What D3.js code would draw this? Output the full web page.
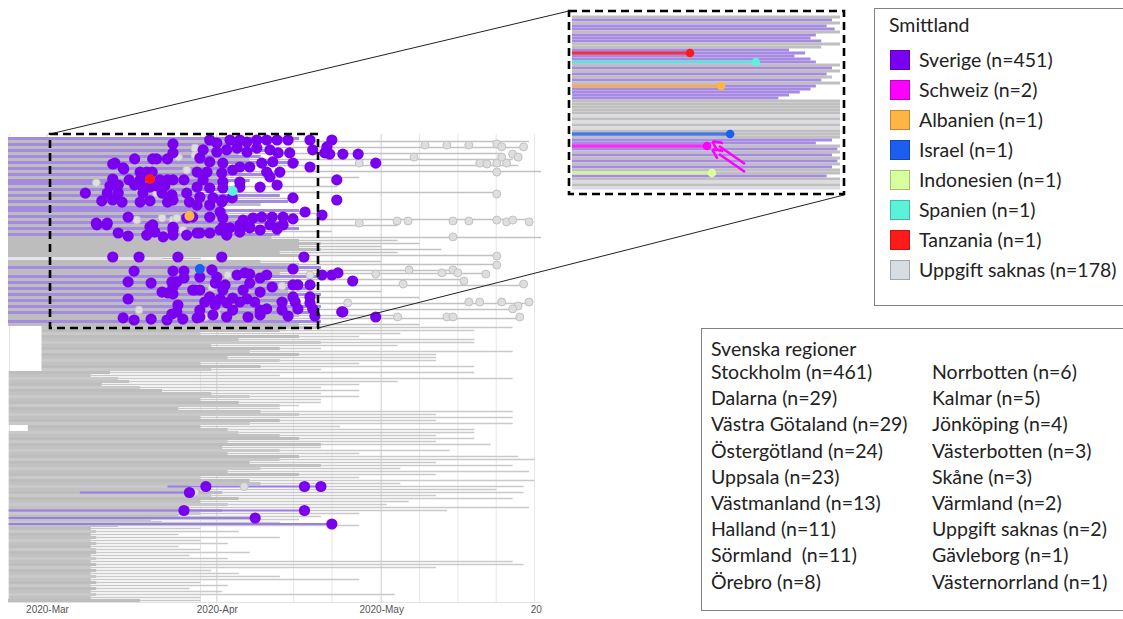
<!DOCTYPE html>
<html><head><meta charset="utf-8">
<script src="https://cdn.jsdelivr.net/npm/d3@7"></script>
<style>body{margin:0;background:#fff}svg{display:block}</style>
</head><body>
<svg id="c" width="1123" height="619"></svg>
<script>
// ---------------- DATA ----------------
const monthTicks = ["2020-03-01","2020-04-01","2020-05-01","2020-06-01"];
const gridDates = ["2020-03-01","2020-03-29","2020-04-01","2020-04-15","2020-04-22","2020-05-01","2020-05-08","2020-05-15","2020-05-22","2020-05-29"];

const countryNames = ["Sverige (n=451)","Schweiz (n=2)","Albanien (n=1)","Israel (n=1)","Indonesien (n=1)","Spanien (n=1)","Tanzania (n=1)","Uppgift saknas (n=178)"];
const countryColors = ["#7a00f0","#ff00ff","#ffb443","#1c5ff0","#d8ff9c","#5cf2da","#ff1a1a","#d6dde3"];

const regionsCol1 = ["Stockholm (n=461)","Dalarna (n=29)","Västra Götaland (n=29)","Östergötland (n=24)","Uppsala (n=23)","Västmanland (n=13)","Halland (n=11)","Sörmland  (n=11)","Örebro (n=8)"];
const regionsCol2 = ["Norrbotten (n=6)","Kalmar (n=5)","Jönköping (n=4)","Västerbotten (n=3)","Skåne (n=3)","Värmland (n=2)","Uppgift saknas (n=2)","Gävleborg (n=1)","Västernorrland (n=1)"];

// Upper (Stockholm) cluster: one row per tip; day offsets from 2020-03-01
const topGroup = ("sususususu"+"susussusus"+"usussususu"+"susuuuuuuu"+"wuusuususu"+"sususususu"+"usu").split("");
const topBlockEnd = [46,42.5,37,39,42.5,35,39,37,46,33, 35,32,41,33,37,32,30,35,28,42.5,
  30,44,39,32,46,33,42.5,37,44,33, 46,33,42.5,41,46,50,46,50,42.5,46,
  21,39,46,50,46,42.5,50,39,46,42.5, 48,44,50,46,46,44,50,46,48,46, 44,50,46];
const topLineEnd = [46,88,37,87,42.5,83,39,85,46,86, 35,92,41,57,37,32,53,35,82,42.5,
  46,44,39,57,46,50,42.5,88,44,64, 46,52,42.5,92,64,68,61,72,64,82,
  28,61,82,50,74,80,50,76,46,87, 48,61,50,68,46,88,50,86,48,64, 86,50,68];

// Lower part of the tree (rows 63..154)
const lowStart = [-1,-1,-1,-1,-1,-1,-1,-1,-1,-1,-1,-1,-1,-1,-1, -7,-7,-7,-7,-7,-7,-7,-7,-7,-7,-7,-7,-7,-7,-7,-7,-7,-7,
  -3.5,-3.5, -7,-7,-7,-7,-7,-7,-7,-7,-7,-7,-7,-7,-7,-7,-7,-7,-7,-7,-7,-7,-7,-7,-7,-7,-7,-7,-7,-7,-7,-7,-7,-7,
  -7,-7,-7,-7,-7,-7,-7,-7,-7,-7,-7,-7,-7,-7,-7,-7,-7,-7,-7,-7,-7,-7,-7,-7];
const lowBlockEnd = [50,42.5,28,46,35,50,30,42.5,37,46, 33,42.5,28,39,30,11.5,8,13,15,10,
  17,21,30,37,28,35,42.5,24,39,46, 28,42.5,37,28,33,35,42.5,46,33,50,
  32,42.5,33,46,42.5,37,50,39,33,46, 28,37,39,26,28,32,30,35,28,33,
  26,32,28,24,19,21,13,8,9,8, 9,8,9,8,9,9,8,9,8,9, 8,9,8,9,8,9,8,9,8,9, 8,17];
const lowLineEnd = [85,78,64.5,57,78,78,64,50,85,71, 71,71,57,78,50,78,42.5,85,64,57,
  50,57,50,57,50,50,46,42.5,85,71, 85,71,85,53.5,78,78,71,78,71,81,
  50,73.5,57,86,89,71,85,64.5,88,71, 57,89,64.5,87,82,87,71,85,66,62,
  88,73,57,50,46,42.5,57,28,35,24, 42.5,28,33,24,28,37,26,33,85,87,
  71,30,35,42.5,57,28,33,26,32,63.5, 28,28];
// Swedish-infected lineages in the lower part: [startDay, endDay, row]
const lowPurple = [[22,50,116],[6,26,118],[-7,47,124],[-7,38,126.5],[-7,52,128.5]];

// Samples: [day, row]
const sweDots = [
 [23,1.8],[23,4.8],[16,6.8],[19.3,6.8],[20,6.8],[22,6.8],[12,8.5],[14,10.2],[17,11.2],[18.2,11.2],[19.2,11.2],
 [15,13.8],[17,13.8],[20.6,13.8],[22,13.8],[23,13.8],[25,13.8],[12,13.5],[13,15.5],[11.5,15.8],[16,15.5],
 [17.5,16.2],[18.8,16.2],[20,15.8],[21.5,15.8],[7,18.2],[11,18.2],[13,18.2],[17.5,18.2],[21,18.2],[22.8,18.8],
 [25.5,18.2],[10,20.8],[12,20.5],[13.7,21.2],[17,21.2],[18.8,20.8],[22,21.2],[23,20.5],[26,21.2],[14.8,26.2],
 [9,28.2],[11,28.2],[19.3,28.8],[23,29.5],[25.5,26.5],[12.4,8.2],[13.9,9.8],
 [29.7,0.5],[31,1.5],[33.4,0.5],[35.2,0.5],[36.5,1.2],[38.3,0.5],[40.1,0.5],[42,0.5],[44,0.5],[48,0.5],[52,0.5],
 [28.5,3.8],[31,4.5],[32.8,3.8],[34.7,3.2],[36.5,4.5],[38.3,3.2],[40.7,3.8],[42.2,4.8],[44.3,4.8],[48.5,3.8],
 [50.7,4.8],[51.6,5.2],[54,5.2],[27.9,6.5],[29.7,7.8],[32.1,8.2],[35.2,9.5],[37,9.5],[39.2,8.2],[41.2,7.8],
 [44.9,8.2],[48,9.5],[27.4,11.2],[29.2,11.2],[31.9,11.5],[33.9,10.5],[40.1,11.2],[42.5,11.2],[28.5,13.8],
 [32.1,14.5],[35.2,14.5],[40.7,12.8],[42,15.5],[38.9,16.2],[52.9,13.8],[27.4,16.2],[29.7,16.5],[32.1,16.5],
 [35.2,16.2],[27.9,19.5],[30.3,19.8],[32.1,20.5],[33.8,19.8],[44.9,19.8],[52.9,20.5],[27.4,22.2],[29.7,22.2],
 [31.9,21.2],[31.6,24.5],[47.1,24.5],[50.2,25.5],[26.6,26.2],[29.7,26.2],[32.1,26.5],[35.8,27.2],[37.6,26.5],
 [39.2,26.2],[41.1,26.2],[43.1,26.2],[44.9,26.8],[32.1,29.5],[35.2,28.8],[37,29.5],[40.7,28.8],[43.1,28.8],
 [51.1,2.8],[56.8,5.2],[60,8.2],[42,30.2],[50.2,45.5],[52,45.5],[53.1,44.8],[55.8,47.5],[53.8,57.8],[60,59.5],
 [9.1,28.8],[10.9,28.8],[13,31.5],[14.8,32.5],[18.2,32.2],[19.7,31.2],[21.2,32.8],[23,32.2],[23,30.5],[25.5,32.2],
 [27.4,31.5],[18.8,29.5],[12,39.5],[16.8,39.5],[23.9,39.5],[15.9,44.2],[23,44.2],[25,44.2],[14.8,47.8],[19,48.2],
 [22.8,47.8],[23.7,47.8],[25,46.5],[23,49.5],[21,51.2],[22.1,51.5],[23,51.8],[27,50.5],[14.8,53.5],[23.9,55.5],
 [23.7,57.8],[22.8,58.5],[13.9,59.8],[15.9,60.5],[19,60.2],[21.9,60.5],[24.8,60.2],[27.4,59.8],
 [27.9,31.5],[29.7,31.5],[31.6,30.5],[33.4,29.8],[35.2,29.8],[37,29.8],[38.9,30.5],[42,29.8],[32.8,32.2],[35.2,31.2],
 [31.9,39.5],[46.9,39.5],[30.1,43.8],[44.9,43.5],[27.9,46.2],[31,46.2],[34.7,45.5],[36.1,44.8],[37,45.2],[38.9,46.5],
 [40.1,45.5],[30.7,48.2],[32.5,48.8],[37,48.2],[41.1,49.5],[44.9,48.8],[45.8,48.8],[48,48.8],[26.6,50.5],[27.9,50.5],
 [32.1,50.5],[35.8,50.5],[38.9,51.2],[29.7,52.8],[31.6,53.5],[33.9,53.2],[36.5,53.5],[44.9,52.8],[48,52.8],
 [28.8,54.5],[30.7,55.5],[32.8,54.8],[35.2,54.5],[37.9,54.5],[42.9,54.5],[45.3,54.5],[48,54.8],[27.9,57.2],
 [33.9,57.2],[38.9,57.2],[40.1,56.8],[42.9,57.2],[45.8,56.8],[48.5,56.8],[27.9,59.5],[30.3,58.8],[32.8,59.5],
 [36.7,59.5],[38.9,58.8],[44,59.2],[48.9,59.2],[54,57.8],
 [29,116],[47,116],[50,116],[26,118],[25,124],[47,124],[38,126.5],[52,128.5]
];
const unkDots = [
 [9,14.8],[17,17.8],[20,18.2],[25.5,10.5],[27,5.5],[27,3.2],[24,6.2],[16.4,27.2],[21,26.5],[23,27.2],[23.7,26.5],
 [69,2.2],[73,2.2],[77,2.2],[82.1,1.8],[83,2.8],[87,2.8],[67,6.2],[83,6.2],[85,5.2],[86,6.2],[79,8.2],[80.3,8.5],
 [82.1,8.2],[83.9,8.2],[82.1,11.2],[57,8.2],[82.1,18.5],[57,28.2],[63.9,27.5],[65.9,27.5],[74.1,27.5],[77,27.5],
 [82.1,27.2],[83.9,27.8],[85,27.2],[88,27.8],[74.1,32.8],[82.1,39.2],[82.1,42.2],[60,45.2],[66.1,43.8],[72.1,44.8],
 [74.1,43.8],[75,44.8],[80.1,45.2],[65,48.5],[76.1,47.5],[87,48.5],[77,54.5],[79,54.5],[83,54.5],[86,55.8],
 [88,54.5],[85,56.8],[86.3,59.5],[64,59.5],[73,59.5],[74.1,59.5],[54.9,54.8],
 [16.8,57.2],[24.8,30.5],[20.1,32.2],[33,45.5],[42.9,49.2],[48,45.5],[30.1,49.5],[31,58.8],[28.8,59.5],
 [36,116],[27,118]
];
// Non-Swedish infections: [countryIndex, day, row]
const specialDots = [[6,18.8,13.5],[5,33.9,17.5],[2,26,25.8],[3,27.9,43.5]];

// Inset (zoom of the dashed box, coloured by country of infection)
const insetGroup = ("usussusssu"+"usssssusus"+"ususssssuu"+"uuulululuu"+"ussusususu"+"suusulul").split("");
const insetEnd = [49.5,48,49.5,47,48.5,49.5,45,44,46,49.5, 46,40,43,41,44,45,49.5,48,49.5,47,
  48,46,49.5,45,44,42,40,38,49.5,49.5, 49.5,49.5,49.5,49.5,49.5,49.5,49.5,49.5,49.5,49.5,
  49.5,48,45,49.5,49,49.5,48,49.5,49,49.5, 48,49.5,49.5,47,49.5,49.5,49.5,49.5];
// [countryIndex, row, endDay]
const insetHighlights = [[6,12,21.5],[5,15,33.8],[2,23,27.3],[3,39,29],[1,43,24.7],[4,52,25.6]];

// ---------------- DRAW ----------------
const svg = d3.select("#c");
const base = Date.UTC(2020,2,1);
const D = d => new Date(base + d*864e5);
const P = d3.utcParse("%Y-%m-%d");

const x = d3.scaleUtc().domain([P("2020-03-01"), P("2020-06-01")]).range([47, 551]);
const y = d3.scaleLinear().domain([-0.5, 154.5]).range([137, 602]);

const PURPLE_LINE = "#a48ae0", GRAY = "#bdbdbd";

const defs = svg.append("defs");
defs.append("clipPath").attr("id","mainclip").append("rect").attr("x",8).attr("y",134).attr("width",533).attr("height",470);
defs.append("clipPath").attr("id","insetclip").append("rect").attr("x",572).attr("y",14).attr("width",269).attr("height",178);
defs.append("clipPath").attr("id","axisclip").append("rect").attr("x",0).attr("y",600).attr("width",542).attr("height",19);

const main = svg.append("g").attr("clip-path","url(#mainclip)");

// grid
main.selectAll("line.grid").data(gridDates).join("line").attr("class","grid")
  .attr("x1",d=>x(P(d))).attr("x2",d=>x(P(d))).attr("y1",134).attr("y2",603)
  .attr("stroke",d=>d.endsWith("-01")?"#cfcfcf":"#e6e6e6").attr("stroke-width",1);
main.append("line").attr("x1",9.5).attr("x2",9.5).attr("y1",134).attr("y2",603).attr("stroke","#e2e2e2");
main.append("line").attr("x1",8).attr("x2",541).attr("y1",602.5).attr("y2",602.5).attr("stroke","#e2e2e2");

// lower rows
const lowIdx = d3.range(lowBlockEnd.length);
main.selectAll("line.lowthin").data(lowIdx).join("line").attr("class","lowthin")
  .attr("x1",i=>x(D(lowBlockEnd[i]))).attr("x2",i=>x(D(lowLineEnd[i])))
  .attr("y1",i=>y(63+i)).attr("y2",i=>y(63+i))
  .attr("stroke","#c9c9c9").attr("stroke-width",1.3);
main.selectAll("line.lowblock").data(lowIdx).join("line").attr("class","lowblock")
  .attr("x1",i=>x(D(lowStart[i]))).attr("x2",i=>x(D(lowBlockEnd[i])))
  .attr("y1",i=>y(63+i)).attr("y2",i=>y(63+i))
  .attr("stroke",i=> i%3===2 ? "#c9c9c9" : (i%2 ? "#bdbdbd" : "#c2c2c2")).attr("stroke-width",3.2);

// top rows
const topIdx = d3.range(topGroup.length);
main.selectAll("line.topthin").data(topIdx.filter(i=>topGroup[i]!=="s")).join("line").attr("class","topthin")
  .attr("x1",i=>x(D(topBlockEnd[i]))).attr("x2",i=>x(D(topLineEnd[i])))
  .attr("y1",i=>y(i)).attr("y2",i=>y(i))
  .attr("stroke","#c2c2c2").attr("stroke-width",1.6);
main.selectAll("line.topblock").data(topIdx).join("line").attr("class","topblock")
  .attr("x1",x(D(-7.5))).attr("x2",i=>x(D(topBlockEnd[i])))
  .attr("y1",i=>y(i)).attr("y2",i=>y(i))
  .attr("stroke",i=>topGroup[i]==="s"?PURPLE_LINE:(topGroup[i]==="w"?"#e6e4ee":GRAY)).attr("stroke-width",3.2);

// purple lineages in the lower part
main.selectAll("line.lowp").data(lowPurple).join("line").attr("class","lowp")
  .attr("x1",d=>x(D(d[0]))).attr("x2",d=>x(D(d[1])))
  .attr("y1",d=>y(d[2])).attr("y2",d=>y(d[2]))
  .attr("stroke","#9a7ee8").attr("stroke-width",2);

// dots
main.selectAll("circle.unk").data(unkDots).join("circle").attr("class","unk")
  .attr("cx",d=>x(D(d[0]))).attr("cy",d=>y(d[1])).attr("r",4)
  .attr("fill","#dedede").attr("stroke","#c2c2c2").attr("stroke-width",1);
main.selectAll("circle.swe").data(sweDots).join("circle").attr("class","swe")
  .attr("cx",d=>x(D(d[0]))).attr("cy",d=>y(d[1])).attr("r",5.6)
  .attr("fill",countryColors[0]);
main.selectAll("circle.spec").data(specialDots).join("circle").attr("class","spec")
  .attr("cx",d=>x(D(d[1]))).attr("cy",d=>y(d[2])).attr("r",5)
  .attr("fill",d=>countryColors[d[0]]);

// axis labels
const axOuter = svg.append("g").attr("clip-path","url(#axisclip)");
const ax = axOuter.append("g").attr("transform","translate(0,603)")
  .call(d3.axisBottom(x).tickValues(monthTicks.map(P)).tickFormat(d3.utcFormat("%Y-%b")).tickSize(0).tickPadding(3));
ax.select(".domain").remove();
ax.selectAll("text").attr("font-family","Liberation Sans, Arial, sans-serif").attr("font-size",10).attr("fill","#555");

// ---------------- INSET ----------------
const xi = d3.scaleUtc().domain([D(-0.5), D(49.5)]).range([572, 840]);
const yi = d3.scaleLinear().domain([-0.5, 57.5]).range([15.5, 189.5]);
const inset = svg.append("g").attr("clip-path","url(#insetclip)");
const insetColor = {s:"#a78be2", u:"#bfbfbf", l:"#dcdce2"};
inset.selectAll("line.ir").data(d3.range(insetGroup.length)).join("line").attr("class","ir")
  .attr("x1",xi(D(-0.6))).attr("x2",j=>xi(D(insetEnd[j])))
  .attr("y1",j=>yi(j)).attr("y2",j=>yi(j))
  .attr("stroke",j=>insetColor[insetGroup[j]]).attr("stroke-width",3.2);
inset.selectAll("line.ih").data(insetHighlights).join("line").attr("class","ih")
  .attr("x1",xi(D(-0.6))).attr("x2",d=>xi(D(d[2])))
  .attr("y1",d=>yi(d[1])).attr("y2",d=>yi(d[1]))
  .attr("stroke",d=>countryColors[d[0]]).attr("stroke-width",3.5).attr("stroke-opacity",0.75);
inset.selectAll("circle.ihd").data(insetHighlights).join("circle").attr("class","ihd")
  .attr("cx",d=>xi(D(d[2]))).attr("cy",d=>yi(d[1])).attr("r",4.3)
  .attr("fill",d=>countryColors[d[0]]);

// arrows pointing at the Schweiz sample
const mk = defs.append("marker").attr("id","arr").attr("viewBox","0 0 10 10").attr("refX",2).attr("refY",5)
  .attr("markerWidth",4).attr("markerHeight",4).attr("orient","auto");
mk.append("path").attr("d","M0,0 L10,5 L0,10").attr("fill","none").attr("stroke","#ff00ff").attr("stroke-width",2.5);
svg.selectAll("line.arrow").data([[745,164,719,146],[745,172,719,154]]).join("line").attr("class","arrow")
  .attr("x1",d=>d[0]).attr("y1",d=>d[1]).attr("x2",d=>d[2]).attr("y2",d=>d[3])
  .attr("stroke","#ff00ff").attr("stroke-width",2.6).attr("marker-end","url(#arr)");

// dashed boxes and connectors
svg.append("line").attr("x1",50).attr("y1",134).attr("x2",569).attr("y2",11).attr("stroke","#222").attr("stroke-width",1);
svg.append("line").attr("x1",318).attr("y1",328).attr("x2",844).attr("y2",195).attr("stroke","#222").attr("stroke-width",1);
svg.append("rect").attr("x",50).attr("y",134).attr("width",268).attr("height",194)
  .attr("fill","none").attr("stroke","#000").attr("stroke-width",2.6).attr("stroke-dasharray","8,5");
svg.append("rect").attr("x",569).attr("y",11).attr("width",275).attr("height",183)
  .attr("fill","none").attr("stroke","#000").attr("stroke-width",2.6).attr("stroke-dasharray","8,5");

// ---------------- LEGENDS ----------------
const FONT = "Lato, 'Open Sans', sans-serif";
const FS = 19.5;
const lg = svg.append("g");
lg.append("rect").attr("x",874.5).attr("y",8.5).attr("width",260).attr("height",297)
  .attr("fill","#fff").attr("stroke","#808080").attr("stroke-width",1);
lg.append("text").attr("x",889).attr("y",32).text("Smittland")
  .attr("font-family",FONT).attr("font-size",FS).attr("fill","#222");
const li = lg.selectAll("g.item").data(countryNames).join("g").attr("class","item")
  .attr("transform",(d,i)=>`translate(0,${60+30*i})`);
li.append("rect").attr("x",890.5).attr("y",-9.5).attr("width",19).attr("height",19)
  .attr("fill",(d,i)=>countryColors[i]).attr("stroke",(d,i)=>d3.color(countryColors[i]).darker(0.8)).attr("stroke-width",1);
li.append("text").attr("x",919).attr("y",7).text(d=>d)
  .attr("font-family",FONT).attr("font-size",FS).attr("fill","#222");

const rg = svg.append("g");
rg.append("rect").attr("x",701.5).attr("y",328.5).attr("width",430).attr("height",282)
  .attr("fill","#fff").attr("stroke","#808080").attr("stroke-width",1);
rg.append("text").attr("x",711).attr("y",356).text("Svenska regioner")
  .attr("font-family",FONT).attr("font-size",FS).attr("fill","#222");
rg.selectAll("text.c1").data(regionsCol1).join("text").attr("class","c1")
  .attr("x",711).attr("y",(d,i)=>379+26.2*i).text(d=>d)
  .attr("font-family",FONT).attr("font-size",FS).attr("fill","#222").style("white-space","pre");
rg.selectAll("text.c2").data(regionsCol2).join("text").attr("class","c2")
  .attr("x",932).attr("y",(d,i)=>379+26.2*i).text(d=>d)
  .attr("font-family",FONT).attr("font-size",FS).attr("fill","#222");
</script>
</body></html>
